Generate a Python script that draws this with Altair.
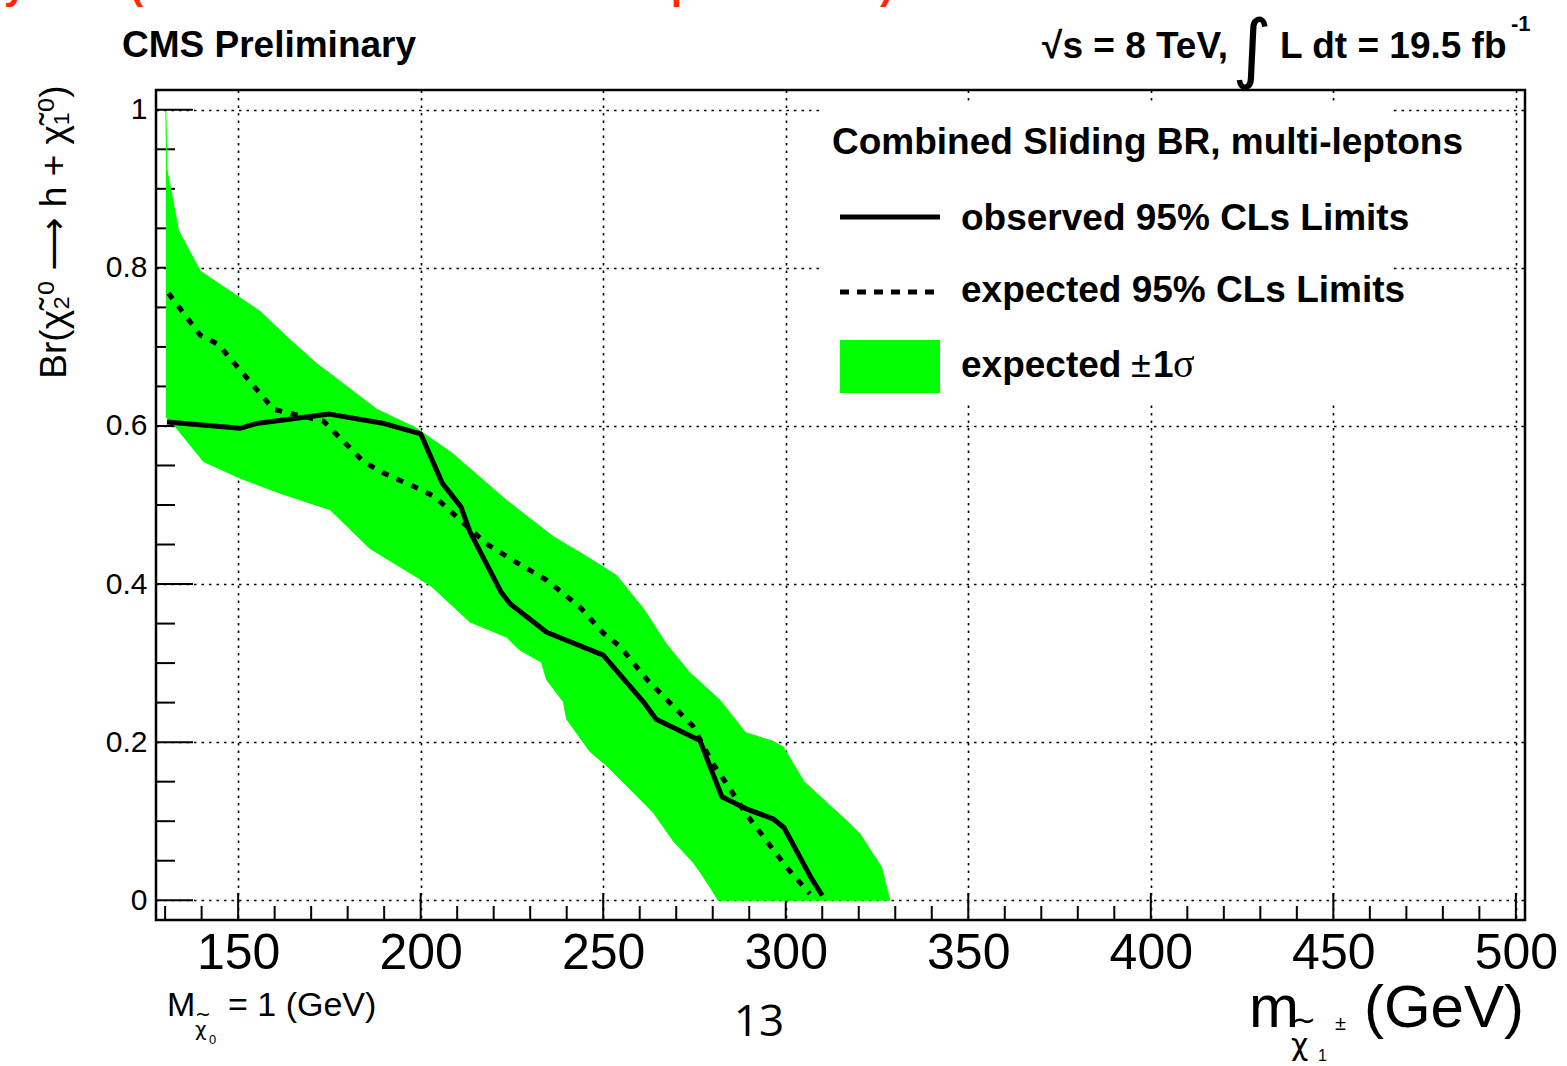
import altair as alt
import pandas as pd

# ---------------- data ----------------
# observed 95% CLs limit
obs_mass = [130.5, 150.5, 155, 175, 190, 200, 206, 211, 213.5, 222, 224.5, 234.5,
            250, 261, 264.5, 276.5, 282.5, 289, 296.5, 299.5, 307, 310]
obs_br = [0.605, 0.597, 0.603, 0.615, 0.603, 0.590, 0.527, 0.498, 0.466, 0.390, 0.375, 0.339,
          0.310, 0.251, 0.229, 0.202, 0.131, 0.116, 0.103, 0.092, 0.028, 0.006]

# expected 95% CLs limit
exp_mass = [130.9, 139.6, 144.6, 150.5, 159.7, 164.2, 173.4, 184.3, 190, 199.8, 204, 211,
            218, 226, 234.5, 243.6, 250, 254.6, 262, 274.6, 280, 284, 289, 294.6, 300.2, 306.6]
exp_br = [0.768, 0.715, 0.703, 0.671, 0.621, 0.616, 0.606, 0.555, 0.540, 0.520, 0.510, 0.480,
          0.451, 0.428, 0.405, 0.371, 0.338, 0.321, 0.279, 0.220, 0.173, 0.146, 0.110, 0.076, 0.042, 0.008]

# expected +1 sigma edge
band_hi_mass = [130.2, 130.5, 133.7, 139.6, 156, 164.2, 171.5, 188, 198.5, 208.5, 223.5, 236.3,
                245.4, 253.6, 261, 267.3, 273.7, 282, 289, 296.5, 299.3, 305, 317.5, 320.3, 326.2, 328.5]
band_hi_br = [0.998, 0.924, 0.847, 0.796, 0.745, 0.709, 0.679, 0.621, 0.598, 0.566, 0.506, 0.460,
              0.435, 0.411, 0.369, 0.324, 0.288, 0.253, 0.212, 0.201, 0.194, 0.150, 0.097, 0.084, 0.042, 0.0]

# expected -1 sigma edge
band_lo_mass = [130.2, 132.8, 140.5, 150.5, 161.5, 175.2, 186.1, 198.9, 203, 213.5, 223.5, 227,
                233.1, 234.5, 239.1, 240, 246.4, 251, 263.7, 269.2, 274.6, 276.5, 279.2, 281.5]
band_lo_br = [0.612, 0.599, 0.555, 0.534, 0.515, 0.494, 0.445, 0.409, 0.397, 0.352, 0.333, 0.317,
              0.301, 0.279, 0.251, 0.229, 0.188, 0.170, 0.111, 0.075, 0.048, 0.036, 0.017, 0.0]

x_major = [150, 200, 250, 300, 350, 400, 450, 500]
x_minor = [m for m in range(130, 500, 10) if m % 50 != 0]
y_major = [0.0, 0.2, 0.4, 0.6, 0.8, 1.0]
y_minor = [round(0.05 * i, 2) for i in range(1, 20) if i % 4 != 0]

# ---------------- layout ----------------
W, H = 1369, 830
LEFT, TOP = 156, 90
GREEN = "#00ff00"
FONT = "Liberation Sans"
SYM = "DejaVu Sans"

xs = alt.Scale(domain=[127.5, 502.5], nice=False, zero=False)
ys = alt.Scale(domain=[-0.025, 1.025], nice=False, zero=False)

grid_style = dict(grid=True, gridColor="black", gridDash=[2.5, 5], gridWidth=1.6,
                  gridOpacity=1, ticks=False, tickSize=0, domain=False,
                  labelFont=FONT, labelColor="black", title=None)

x_axis = alt.Axis(values=x_major, labelFontSize=50, labelPadding=8, labelFlush=False,
                  labelOverlap=False, **grid_style)
y_axis = alt.Axis(values=y_major, format="~g", labelFontSize=30, labelPadding=9,
                  labelOverlap=False, **grid_style)


def X(axis=None):
    if axis is None:
        return alt.X("mass:Q", scale=xs)
    return alt.X("mass:Q", scale=xs, axis=axis)


def Y(axis=None):
    if axis is None:
        return alt.Y("br:Q", scale=ys)
    return alt.Y("br:Q", scale=ys, axis=axis)


# grid + tick labels (invisible points carry the axes)
axes_layer = alt.Chart(pd.DataFrame({"mass": x_major[:6], "br": y_major})).mark_point(
    opacity=0).encode(x=X(x_axis), y=Y(y_axis))

# inward tick marks on the bottom and left frame
xt_major = alt.Chart(pd.DataFrame({"mass": x_major})).mark_rule(color="black", strokeWidth=2).encode(
    x=X(), y=alt.value(H), y2=alt.value(H - 27))
xt_minor = alt.Chart(pd.DataFrame({"mass": x_minor})).mark_rule(color="black", strokeWidth=2).encode(
    x=X(), y=alt.value(H), y2=alt.value(H - 14))
yt_major = alt.Chart(pd.DataFrame({"br": y_major})).mark_rule(color="black", strokeWidth=2).encode(
    y=Y(), x=alt.value(0), x2=alt.value(37))
yt_minor = alt.Chart(pd.DataFrame({"br": y_minor})).mark_rule(color="black", strokeWidth=2).encode(
    y=Y(), x=alt.value(0), x2=alt.value(19))

# +-1 sigma band as a closed polygon: upper edge forward, lower edge back
band_df = pd.DataFrame({
    "mass": band_hi_mass + band_lo_mass[::-1],
    "br": band_hi_br + band_lo_br[::-1],
})
band_df["idx"] = range(len(band_df))
band = alt.Chart(band_df).mark_line(fill=GREEN, stroke=GREEN, strokeWidth=1).encode(
    x=X(), y=Y(), order="idx:Q")

obs_df = pd.DataFrame({"mass": obs_mass, "br": obs_br})
obs_df["idx"] = range(len(obs_df))
obs_line = alt.Chart(obs_df).mark_line(color="black", strokeWidth=5, strokeJoin="round").encode(
    x=X(), y=Y(), order="idx:Q")

exp_df = pd.DataFrame({"mass": exp_mass, "br": exp_br})
exp_df["idx"] = range(len(exp_df))
exp_line = alt.Chart(exp_df).mark_line(color="black", strokeWidth=5, strokeDash=[7, 9]).encode(
    x=X(), y=Y(), order="idx:Q")


def txt(s, x, y, size, weight="normal", font=FONT, align="left", color="black", angle=0):
    return alt.Chart(pd.DataFrame({"t": [s]})).mark_text(
        align=align, baseline="alphabetic", fontSize=size, fontWeight=weight, font=font,
        color=color, angle=angle).encode(x=alt.value(x - LEFT), y=alt.value(y - TOP), text="t:N")


def hrule(x1, x2, y, width, dash=None):
    kw = dict(color="black", strokeWidth=width)
    if dash:
        kw["strokeDash"] = dash
    return alt.Chart(pd.DataFrame({"k": [0]})).mark_rule(**kw).encode(
        x=alt.value(x1 - LEFT), x2=alt.value(x2 - LEFT), y=alt.value(y - TOP))


def box(x1, x2, y1, y2, color):
    return alt.Chart(pd.DataFrame({"k": [0]})).mark_rect(color=color).encode(
        x=alt.value(x1 - LEFT), x2=alt.value(x2 - LEFT),
        y=alt.value(y1 - TOP), y2=alt.value(y2 - TOP))


texts = [
    # header
    txt("CMS Preliminary", 122, 57, 37, weight="bold"),
    txt("√s = 8 TeV,", 1228, 58, 37, weight="bold", align="right"),
    txt("∫", 1252, 74, 76, font=SYM, align="center"),
    txt("L dt = 19.5 fb", 1280, 58, 37, weight="bold"),
    txt("-1", 1511, 31, 22, weight="bold"),
    # legend
    txt("Combined Sliding BR, multi-leptons", 832, 154, 37, weight="bold"),
    txt("observed 95% CLs Limits", 961, 230, 37, weight="bold"),
    txt("expected 95% CLs Limits", 961, 302, 37, weight="bold"),
    txt("expected", 961, 377, 37, weight="bold"),
    txt("±", 1131, 377, 36),
    txt("1", 1153, 377, 37, weight="bold"),
    txt("σ", 1173, 377, 40, font="Liberation Serif"),
    # y title
    txt("Br(χ̃₂⁰ ⟶ h + χ̃₁⁰)", 66, 232, 37, font=FONT + ", " + SYM, align="center", angle=270),
    # x title
    txt("m", 1249, 1027, 60),
    txt("~", 1291, 1030, 30, font=SYM),
    txt("±", 1335, 1030, 20),
    txt("χ", 1291, 1055, 30, font=SYM),
    txt("1", 1318, 1061, 16),
    txt("(GeV)", 1524, 1027, 60, align="right"),
    # LSP mass note
    txt("M", 167, 1016, 34),
    txt("~", 195, 1021, 19, font=SYM),
    txt("χ", 195, 1036, 20, font=SYM),
    txt("0", 209, 1044, 13),
    txt("= 1 (GeV)", 228, 1016, 34),
    # page number
    txt("13", 759, 1036, 44, font="Open Sans", align="center"),
    # cut-off slide heading at the very top
    txt("y", 4, -1, 40, weight="bold", color="#ff2a00"),
    txt("(", 130, -1, 40, weight="bold", color="#ff2a00"),
    txt("p", 671, -1, 40, weight="bold", color="#ff2a00"),
    txt(")", 880, -1, 40, weight="bold", color="#ff2a00"),
]

chart = alt.layer(
    axes_layer, xt_major, xt_minor, yt_major, yt_minor,
    band, exp_line, obs_line,
    # legend: plain white panel over the grid, then entries
    box(820, 1393, 102, 403, "white"),
    hrule(840, 940, 217, 5), hrule(840, 935, 292, 5, dash=[9, 8]), box(840, 940, 340, 393, GREEN),
    *texts,
).properties(
    width=W, height=H, autosize="none",
    padding={"left": LEFT, "top": TOP, "right": 1567 - LEFT - W, "bottom": 1066 - TOP - H},
    background="white",
).configure_view(stroke="black", strokeWidth=2.5)

chart.save("out.html", embed_options={"renderer": "svg", "actions": False})
